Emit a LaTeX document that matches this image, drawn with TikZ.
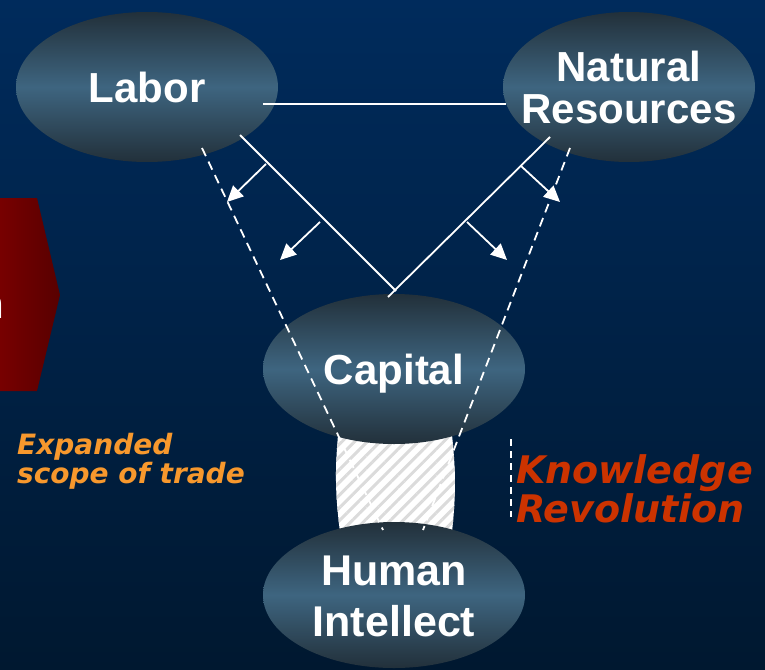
\documentclass[tikz,border=0pt]{standalone}
\usepackage{fontspec}
\setmainfont{Liberation Sans}
\newfontfamily\dvs{DejaVu Sans}
\usetikzlibrary{shapes.geometric,arrows.meta,patterns.meta}
\definecolor{bgtop}{RGB}{0,43,92}
\definecolor{bgbot}{RGB}{0,24,48}
\definecolor{elldark}{RGB}{34,48,58}
\definecolor{ellmid}{RGB}{62,101,128}
\definecolor{redl}{RGB}{122,0,0}
\definecolor{redr}{RGB}{88,0,0}
\definecolor{orangetxt}{RGB}{247,152,45}
\definecolor{knowtxt}{RGB}{204,51,0}
\begin{document}
\begin{tikzpicture}[x=1pt,y=-1pt,
  oval/.style={ellipse, minimum width=262pt, minimum height=150pt, inner sep=0pt,
    top color=elldark, bottom color=elldark, middle color=ellmid},
  ovaltext/.style={inner sep=0pt, text=white, align=center, text depth=0pt,
    font=\bfseries\fontsize{42}{42}\selectfont},
  link/.style={white, line width=1.8pt},
  bound/.style={white, line width=1.8pt, dash pattern=on 9pt off 6pt},
  push/.style={white, line width=1.8pt, -{Triangle[length=16pt,width=15pt]}},
  hatch/.style={pattern={Lines[angle=45,distance=9pt,line width=3pt]}, pattern color=black!14},
]
\useasboundingbox (0,0) rectangle (765,669);
\clip (0,0) rectangle (765,669);
\fill[top color=bgtop, bottom color=bgbot] (0,0) rectangle (765,669);
% red arrow shape at left
\shade[left color=redl, right color=redr] (-5,198) -- (37,198) -- (60,295) -- (37,391) -- (-5,391) -- cycle;
\node[anchor=base east, text=white, inner sep=0pt, font=\bfseries\fontsize{42}{42}\selectfont] (cut) at (4.5,318) {n};
% hatched link between capital and human intellect
\fill[white] (338,435) to[bend right=6] (340,532) -- (452,532) to[bend right=6] (452,435) -- cycle;
\fill[hatch] (338,435) to[bend right=6] (340,532) -- (452,532) to[bend right=6] (452,435) -- cycle;
% ellipses
\node[oval] (labor) at (147,87) {};
\node[oval, minimum width=252pt] (natres) at (629,87) {};
\node[oval] (capital) at (394,369) {};
\node[oval, minimum height=146pt] (human) at (394,595) {};
\node[ovaltext] (labortext) at (labor.center) {Labor};
\node[ovaltext] (natrestext) at (natres.center) {Natural\\Resources};
\node[ovaltext] (capitaltext) at (capital.center) {Capital};
\node[ovaltext, font=\bfseries\fontsize{43}{51}\selectfont] (humantext) at (394,596) {Human\\Intellect};
% connectors
\coordinate (h1) at (263,104);
\coordinate (h2) at (506,104);
\coordinate (lA) at (240,135);
\coordinate (vx) at (396,291);
\coordinate (rA) at (550,137);
\coordinate (rB) at (388,297);
\draw[link] (h1) -- (h2);
\draw[link] (lA) -- (vx);
\draw[link] (rA) -- (rB);
\coordinate (dl1) at (202,148);
\coordinate (dl2) at (383,530);
\coordinate (dr1) at (570,148);
\coordinate (dr2) at (423,530);
\draw[bound] (dl1) -- (dl2);
\draw[bound] (dr1) -- (dr2);
\coordinate (a1s) at (266,164);
\coordinate (a1e) at (227,202);
\coordinate (a2s) at (320,222);
\coordinate (a2e) at (280,260);
\coordinate (a3s) at (521,166);
\coordinate (a3e) at (560,202);
\coordinate (a4s) at (467,222);
\coordinate (a4e) at (507,260);
\draw[push] (a1s) -- (a1e);
\draw[push] (a2s) -- (a2e);
\draw[push] (a3s) -- (a3e);
\draw[push] (a4s) -- (a4e);
\coordinate (kv1) at (511,439);
\coordinate (kv2) at (511,517);
\draw[white, line width=1.5pt, dash pattern=on 7pt off 5pt] (kv1) -- (kv2);
% labels
\node[anchor=base west, inner sep=0pt, align=left, text=orangetxt,
  font=\dvs\bfseries\itshape\fontsize{28}{25}\selectfont] (scope) at (17,483) {Expanded\\scope of trade};
\node[anchor=base west, inner sep=0pt, align=left, text=knowtxt,
  font=\dvs\bfseries\itshape\fontsize{38}{37}\selectfont] (know) at (516,522) {Knowledge\\Revolution};
\end{tikzpicture}
\end{document}
